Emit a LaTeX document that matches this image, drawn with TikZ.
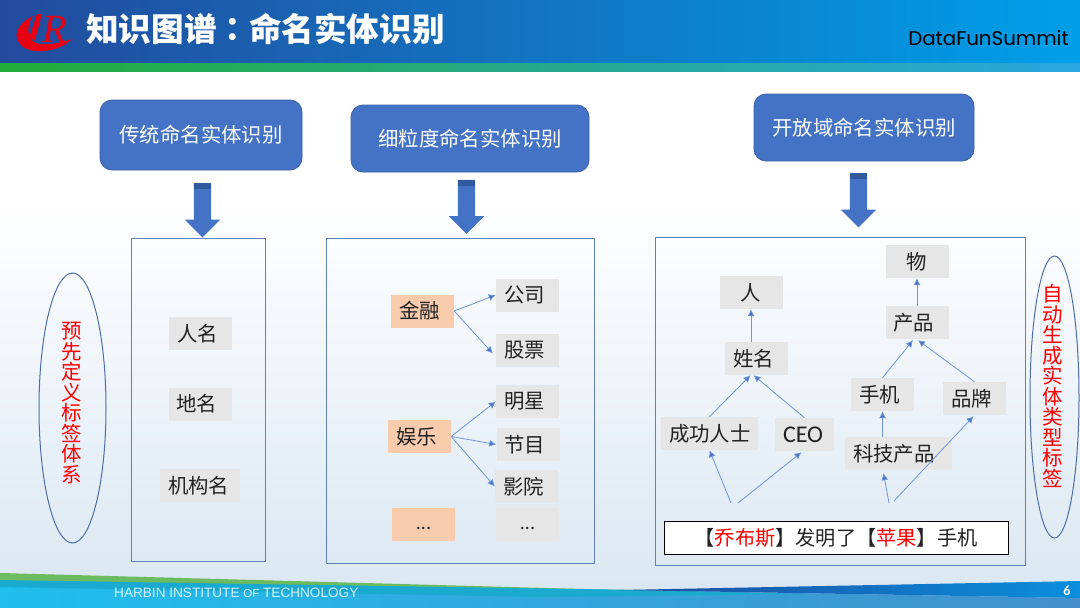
\documentclass[tikz,border=0pt]{standalone}
\usepackage{fontspec}
\usepackage{xcolor}
\setmainfont{Noto Sans CJK SC}
\newfontfamily\tcfont{Noto Sans CJK TC}
\newfontfamily\latinfont{Carlito}
\newfontfamily\brandfont{Poppins}
\newfontfamily\footfont{Liberation Sans}
\newfontfamily\logofont{Liberation Serif}
\usetikzlibrary{arrows.meta,shapes.geometric,shapes.arrows}
\definecolor{headleft}{HTML}{234B9D}
\definecolor{headmid}{HTML}{1259A9}
\definecolor{headright}{HTML}{009FE8}
\definecolor{stripeleft}{HTML}{22AC38}
\definecolor{striperight}{HTML}{29A6E0}
\definecolor{pagelow}{HTML}{D9E6F2}
\definecolor{boxblue}{HTML}{4472C4}
\definecolor{boxedge}{HTML}{3A62A8}
\definecolor{bandblue}{HTML}{2F5A9E}
\definecolor{panelblue}{HTML}{6080B6}
\definecolor{ovalblue}{HTML}{4F6FA5}
\definecolor{linkblue}{HTML}{7096D6}
\definecolor{taggray}{HTML}{E7E6E6}
\definecolor{tagorange}{HTML}{F8CBAD}
\definecolor{inkgray}{HTML}{222222}
\definecolor{logored}{HTML}{E60012}
\definecolor{footgreen}{HTML}{6CBB60}
\definecolor{footteal}{HTML}{1AA9CF}
\definecolor{footleft}{HTML}{20BFEE}
\definecolor{footright}{HTML}{4390CC}
\definecolor{wedgeleft}{HTML}{1E4C9E}
\definecolor{wedgeright}{HTML}{0A8FDD}
\tikzset{
  titlebox/.style={fill=boxblue, draw=boxedge, line width=.8pt, rounded corners=12pt, text=white, font=\fontsize{20.4}{24}\selectfont},
  blockarrow/.style={shape=single arrow, fill=boxblue, rotate=270, minimum height=54pt, inner xsep=0pt, inner ysep=8.5pt, single arrow head extend=9pt},
  panel/.style={draw=panelblue, line width=1pt},
  oval/.style={shape=ellipse, draw=ovalblue, line width=1pt},
  tagbox/.style={fill=taggray, inner xsep=8pt, minimum height=33pt, text width=#1-16pt, align=left, font=\fontsize{20.4}{24}\selectfont},
  tagbox/.default=63pt,
  dotbox/.style={tagbox, align=center, text height=14pt, text depth=4pt, font=\latinfont\fontsize{20}{24}\selectfont},
  sidetext/.style={text=red, align=center, font=\fontsize{20.5}{20.5}\selectfont},
  link/.style={draw=linkblue, line width=.8pt, -{Latex[length=7pt,width=7pt,fill=boxblue]}},
}
\begin{document}
\begin{tikzpicture}[x=1pt, y=-1pt, every node/.style={inner sep=0pt, text=inkgray}]
\useasboundingbox (0,0) rectangle (1080,608);
\fill[white] (0,0) rectangle (1080,608);
\shade[top color=white, bottom color=pagelow] (0,200) rectangle (1080,608);
\shade[left color=headleft, middle color=headmid, right color=headright] (0,0) rectangle (1080,63);
\shade[left color=stripeleft, right color=striperight] (0,63) rectangle (1080,71);
\fill[logored] (33,16) .. controls (20,22) and (15,32) .. (17,38) .. controls (20,50) and (34,52) .. (44,51) .. controls (56,50) and (66,45) .. (72,39) .. controls (60,43) and (50,45) .. (40,44) .. controls (29,43) and (24,30) .. cycle;
\fill[logored] (37,14) -- (42,14) -- (35,40) -- (29,38) -- cycle;
\node[text=logored, font=\logofont\itshape\fontsize{40}{40}\selectfont] (logor) at (55,29) {R};
\node[text=white, font=\bfseries\fontsize{32.6}{36}\selectfont, anchor=west] (maintitle) at (86,29) {知识图谱{\tcfont ：}命名实体识别};
\node[text=black, font=\brandfont\fontsize{19.8}{22}\selectfont, anchor=east] (brand) at (1069,38) {DataFunSummit};

\fill[footgreen] (0,573) -- (620,590) -- (0,581) -- cycle;
\shade[left color=footleft, right color=footright] (0,581) -- (620,590) -- (1080,598) -- (1080,608) -- (0,608) -- cycle;
\fill[footteal] (0,580) -- (640,590) -- (800,594) -- (540,597) -- (0,587) -- cycle;
\shade[left color=wedgeleft, right color=wedgeright] (620,590) -- (1080,581) -- (1080,598) -- cycle;
\node[text=white!80!footleft, font=\footfont\fontsize{13.6}{16}\selectfont, anchor=west] (school) at (114,593) {HARBIN INSTITUTE {\fontsize{11.5}{16}\selectfont OF} TECHNOLOGY};
\node[text=white, font=\latinfont\bfseries\fontsize{14}{16}\selectfont] (pagenum) at (1067,591) {6};

\node[titlebox, minimum width=202pt, minimum height=70pt] (boxtrad) at (201,135) {传统命名实体识别};
\node[titlebox, minimum width=238pt, minimum height=67pt] (boxfine) at (470,138.5) {细粒度命名实体识别};
\node[titlebox, minimum width=220pt, minimum height=67pt] (boxopen) at (864,127.5) {开放域命名实体识别};

\node[blockarrow] (arrowtrad) at (202.5,206) {};
\node[blockarrow] (arrowfine) at (466.5,202.5) {};
\node[blockarrow] (arrowopen) at (858.5,196) {};
\fill[bandblue] (arrowtrad.before tail) rectangle ([yshift=-6pt]arrowtrad.after tail);
\fill[bandblue] (arrowfine.before tail) rectangle ([yshift=-6pt]arrowfine.after tail);
\fill[bandblue] (arrowopen.before tail) rectangle ([yshift=-6pt]arrowopen.after tail);

\node[panel, minimum width=134pt, minimum height=323pt] (paneltrad) at (198,399.5) {};
\node[panel, minimum width=268pt, minimum height=325pt] (panelfine) at (460,400.5) {};
\node[panel, minimum width=370pt, minimum height=328pt] (panelopen) at (840,401) {};

\node[oval, minimum width=67pt, minimum height=270pt] (ovalleft) at (72.5,408) {};
\node[oval, minimum width=49pt, minimum height=282pt] (ovalright) at (1054.5,397) {};
\node[sidetext] (sideleft) at (72,403) {预\\先\\定\\义\\标\\签\\体\\系};
\node[sidetext] (sideright) at (1053,386) {自\\动\\生\\成\\实\\体\\类\\型\\标\\签};

\node[tagbox] (renming) at (200.5,333.5) {人名};
\node[tagbox] (diming) at (200,404) {地名};
\node[tagbox=80pt] (jigou) at (200,485.5) {机构名};

\node[tagbox, fill=tagorange] (jinrong) at (422.5,311) {金融};
\node[tagbox, fill=tagorange] (yule) at (419.5,436.5) {娱乐};
\node[dotbox, fill=tagorange] (dotsleft) at (423.5,524.5) {...};
\node[tagbox] (gongsi) at (527.5,295) {公司};
\node[tagbox] (gupiao) at (527.5,350.5) {股票};
\node[tagbox] (mingxing) at (527.5,401.5) {明星};
\node[tagbox] (jiemu) at (528,444.5) {节目};
\node[tagbox] (yingyuan) at (526.5,486.5) {影院};
\node[dotbox] (dotsright) at (527.5,524.5) {...};

\draw[link] (jinrong.east) -- (gongsi.west);
\draw[link] (jinrong.east) -- ([xshift=-3pt,yshift=-3pt]gupiao.west);
\draw[link] (yule.east) -- (mingxing.west);
\draw[link] (yule.east) -- (jiemu.west);
\draw[link] (yule.east) -- (yingyuan.west);

\node[tagbox, align=center] (ren) at (751,292.5) {人};
\node[tagbox] (xingming) at (756.5,358.5) {姓名};
\node[tagbox=97pt] (chenggong) at (709.5,433.5) {成功人士};
\node[tagbox=59pt, font=\latinfont\fontsize{24}{24}\selectfont] (ceo) at (804.5,434.5) {CEO};
\node[tagbox, align=center] (wu) at (917,261.5) {物};
\node[tagbox] (chanpin) at (917,322.5) {产品};
\node[tagbox] (shouji) at (882.5,394.5) {手机};
\node[tagbox] (pinpai) at (974.5,398.5) {品牌};
\node[tagbox=107pt] (keji) at (898.5,453.5) {科技产品};
\node[draw=black, fill=white, line width=1pt, minimum width=344pt, minimum height=33pt, font=\fontsize{20.2}{24}\selectfont] (sentence) at (836,537.5) {【{\color{red}乔布斯}】发明了【{\color{red}苹果}】手机};

\coordinate (jobsleft) at (731,503);
\coordinate (jobsright) at (738,503);
\coordinate (appleleft) at (889,503);
\coordinate (appleright) at (894,501);

\draw[link] (xingming.north -| ren.south) -- (ren.south);
\draw[link] (chenggong.north) -- ([xshift=-6pt]xingming.south);
\draw[link] (ceo.north) -- ([xshift=-3pt]xingming.south);
\draw[link] (jobsleft) -- (chenggong.south);
\draw[link] (jobsright) -- ([xshift=-3pt,yshift=-1pt]ceo.south);
\draw[link] (chanpin.north) -- (wu.south);
\draw[link] (shouji.north) -- ([xshift=-4pt,yshift=-1pt]chanpin.south);
\draw[link] (pinpai.north) -- ([xshift=1pt,yshift=-1pt]chanpin.south);
\draw[link] (shouji.south |- keji.north) -- (shouji.south);
\draw[link] (appleleft) -- ([xshift=-15pt,yshift=-3pt]keji.south);
\draw[link] (appleright) -- ([xshift=-1pt,yshift=-1pt]pinpai.south);
\end{tikzpicture}
\end{document}
